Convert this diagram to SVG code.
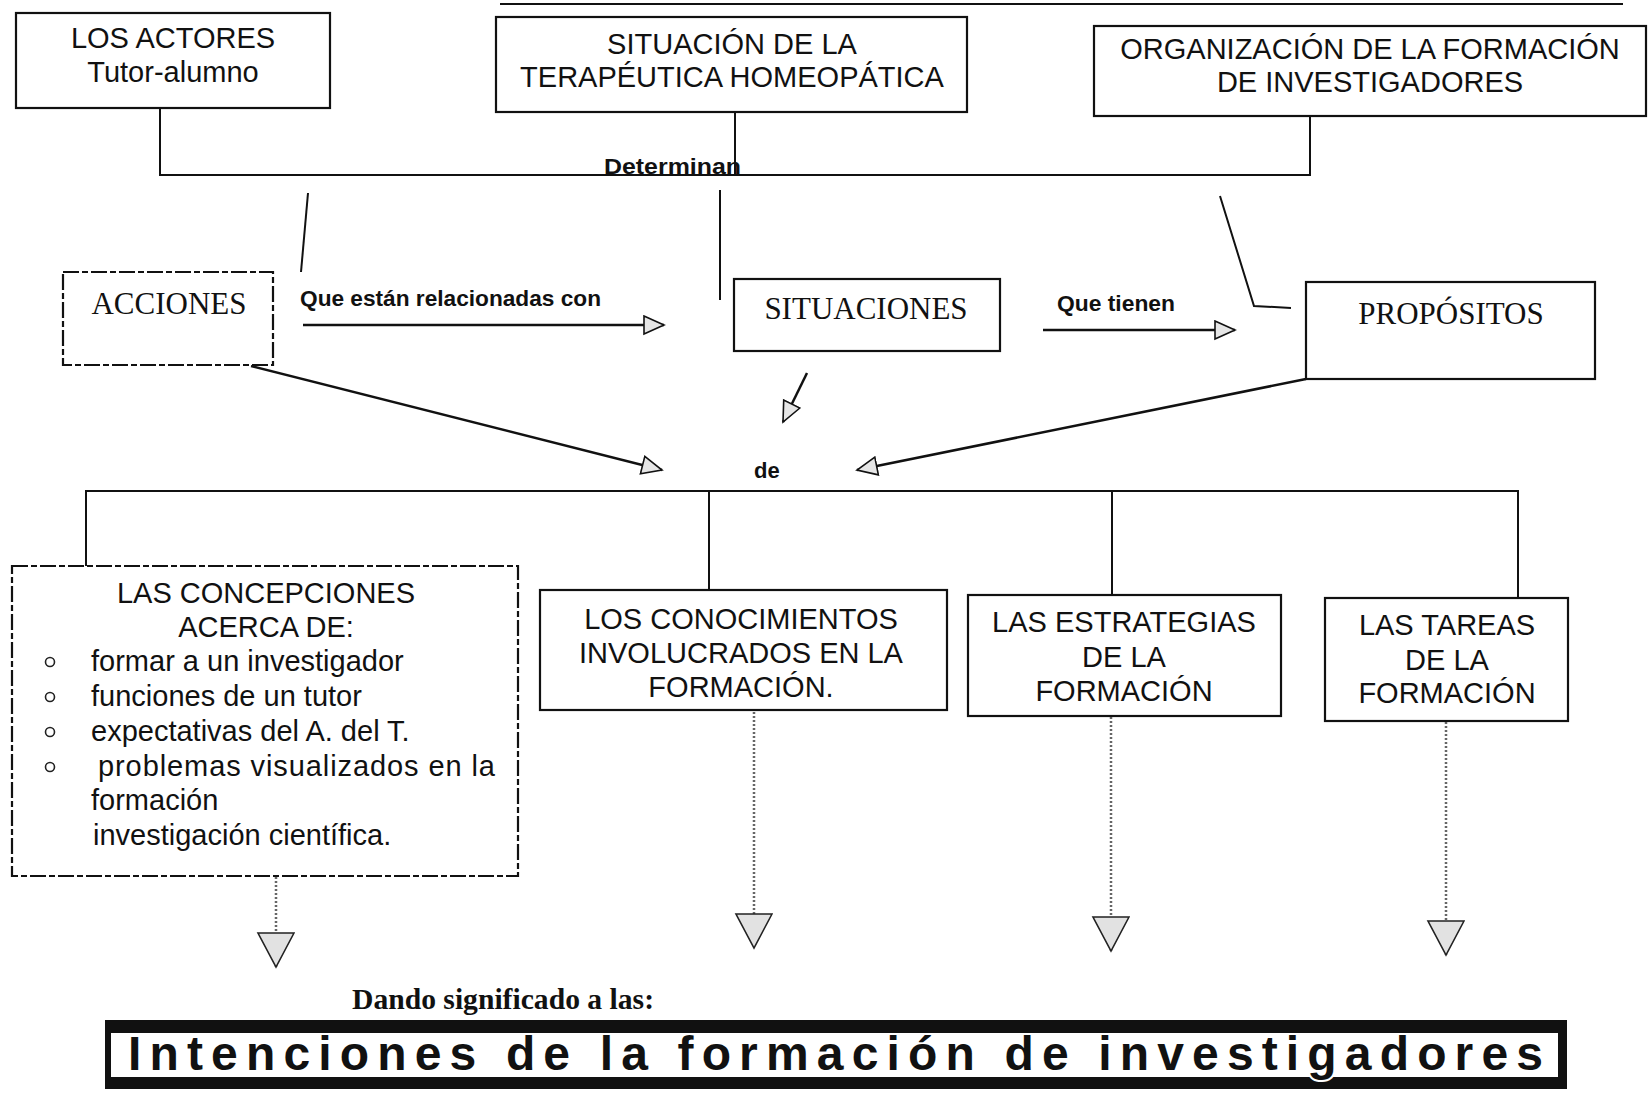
<svg xmlns="http://www.w3.org/2000/svg" width="1652" height="1099" viewBox="0 0 1652 1099">
<style>
.box{fill:#fff;stroke:#111;stroke-width:2.2}
.dbox{fill:#fff;stroke:#111;stroke-width:2.2;stroke-dasharray:16 3 6 3}
.sans{font-family:"Liberation Sans",Arial,sans-serif;font-size:29px;fill:#111}
.serif{font-family:"Liberation Serif","Times New Roman",serif;font-size:31px;fill:#111}
.lbl{font-family:"Liberation Sans",Arial,sans-serif;font-size:22px;font-weight:bold;fill:#111}
.ln{fill:none;stroke:#111;stroke-width:2}
.arr{fill:none;stroke:#111;stroke-width:2.5}
.dot{fill:none;stroke:#666;stroke-width:2.5;stroke-dasharray:2 2}
.c{text-anchor:middle}
</style>
<defs>
<marker id="head" markerUnits="userSpaceOnUse" markerWidth="24" markerHeight="22" refX="21" refY="10" orient="auto" viewBox="0 0 24 22">
<path d="M1,1 L21,10 L1,19 Z" fill="#e6e6e6" stroke="#111" stroke-width="1.6"/>
</marker>
<marker id="bighead" markerUnits="userSpaceOnUse" markerWidth="38" markerHeight="40" refX="35" refY="19" orient="auto" viewBox="0 0 38 40">
<path d="M1,1 L35,19 L1,37 Z" fill="#e2e2e2" stroke="#222" stroke-width="1.6"/>
</marker>
</defs>
<rect width="1652" height="1099" fill="#fff"/>

<g id="connectors">
<line class="ln" x1="500" y1="4" x2="1623" y2="4"/>
<polyline class="ln" points="160,108 160,175 1310,175 1310,116"/>
<line class="ln" x1="735" y1="112" x2="735" y2="175"/>
<line class="ln" x1="308" y1="193" x2="301" y2="272"/>
<line class="ln" x1="720" y1="190" x2="720" y2="300"/>
<polyline class="ln" points="1220,196 1254,306 1291,308"/>
<line class="arr" x1="303" y1="325" x2="664" y2="325" marker-end="url(#head)"/>
<line class="arr" x1="1043" y1="330" x2="1235" y2="330" marker-end="url(#head)"/>
<line class="arr" x1="251" y1="366" x2="662" y2="470" marker-end="url(#head)"/>
<line class="arr" x1="807" y1="373" x2="783" y2="422" marker-end="url(#head)"/>
<line class="arr" x1="1306" y1="379" x2="857" y2="470" marker-end="url(#head)"/>
<polyline class="ln" points="86,566 86,491 1518,491 1518,598"/>
<line class="ln" x1="709" y1="491" x2="709" y2="590"/>
<line class="ln" x1="1112" y1="491" x2="1112" y2="595"/>
<line class="dot" x1="276" y1="877" x2="276" y2="967" marker-end="url(#bighead)"/>
<line class="dot" x1="754" y1="712" x2="754" y2="948" marker-end="url(#bighead)"/>
<line class="dot" x1="1111" y1="717" x2="1111" y2="951" marker-end="url(#bighead)"/>
<line class="dot" x1="1446" y1="722" x2="1446" y2="955" marker-end="url(#bighead)"/>
<text class="lbl" x="604" y="174" textLength="137" lengthAdjust="spacingAndGlyphs">Determinan</text>
<text class="lbl" x="300" y="306" textLength="301" lengthAdjust="spacingAndGlyphs">Que están relacionadas con</text>
<text class="lbl" x="1057" y="311" textLength="118" lengthAdjust="spacingAndGlyphs">Que tienen</text>
<text class="lbl" x="754" y="478">de</text>
</g>

<g id="n-actores">
<rect class="box" x="16" y="13" width="314" height="95"/>
<text class="sans c" x="173" y="48">LOS ACTORES</text>
<text class="sans c" x="173" y="82">Tutor-alumno</text>
</g>
<g id="n-situacion">
<rect class="box" x="496" y="17" width="471" height="95"/>
<text class="sans c" x="732" y="54">SITUACIÓN DE LA</text>
<text class="sans c" x="732" y="87">TERAPÉUTICA HOMEOPÁTICA</text>
</g>
<g id="n-organizacion">
<rect class="box" x="1094" y="26" width="552" height="90"/>
<text class="sans c" x="1370" y="59">ORGANIZACIÓN DE LA FORMACIÓN</text>
<text class="sans c" x="1370" y="92">DE INVESTIGADORES</text>
</g>

<g id="n-acciones">
<rect class="dbox" x="63" y="272" width="210" height="93"/>
<text class="serif c" x="169" y="314">ACCIONES</text>
</g>
<g id="n-situaciones">
<rect class="box" x="734" y="279" width="266" height="72"/>
<text class="serif c" x="866" y="319">SITUACIONES</text>
</g>
<g id="n-propositos">
<rect class="box" x="1306" y="282" width="289" height="97"/>
<text class="serif c" x="1451" y="324">PROPÓSITOS</text>
</g>

<g id="n-concepciones">
<rect class="dbox" x="12" y="566" width="506" height="310"/>
<text class="sans c" x="266" y="603">LAS CONCEPCIONES</text>
<text class="sans c" x="266" y="637">ACERCA DE:</text>
<circle cx="50" cy="662" r="4.5" fill="none" stroke="#222" stroke-width="1.6"/>
<circle cx="50" cy="697" r="4.5" fill="none" stroke="#222" stroke-width="1.6"/>
<circle cx="50" cy="732" r="4.5" fill="none" stroke="#222" stroke-width="1.6"/>
<circle cx="50" cy="767" r="4.5" fill="none" stroke="#222" stroke-width="1.6"/>
<text class="sans" x="91" y="671">formar a un investigador</text>
<text class="sans" x="91" y="706">funciones de un tutor</text>
<text class="sans" x="91" y="741">expectativas del A. del T.</text>
<text class="sans" x="98" y="776" textLength="397" lengthAdjust="spacing">problemas visualizados en la</text>
<text class="sans" x="91" y="810">formación</text>
<text class="sans" x="93" y="845">investigación científica.</text>
</g>
<g id="n-conocimientos">
<rect class="box" x="540" y="590" width="407" height="120"/>
<text class="sans c" x="741" y="629">LOS CONOCIMIENTOS</text>
<text class="sans c" x="741" y="663">INVOLUCRADOS EN LA</text>
<text class="sans c" x="741" y="697">FORMACIÓN.</text>
</g>
<g id="n-estrategias">
<rect class="box" x="968" y="595" width="313" height="121"/>
<text class="sans c" x="1124" y="632">LAS ESTRATEGIAS</text>
<text class="sans c" x="1124" y="667">DE LA</text>
<text class="sans c" x="1124" y="701">FORMACIÓN</text>
</g>
<g id="n-tareas">
<rect class="box" x="1325" y="598" width="243" height="123"/>
<text class="sans c" x="1447" y="635">LAS TAREAS</text>
<text class="sans c" x="1447" y="670">DE LA</text>
<text class="sans c" x="1447" y="703">FORMACIÓN</text>
</g>

<g id="n-intenciones">
<text x="352" y="1009" textLength="302" lengthAdjust="spacingAndGlyphs" style="font-family:'Liberation Serif','Times New Roman',serif;font-size:29px;font-weight:bold;fill:#111">Dando significado a las:</text>
<rect x="105" y="1020" width="1462" height="69" fill="#111"/>
<rect x="111" y="1033" width="1447" height="44" fill="#fff"/>
<text x="128" y="1070" textLength="1415" lengthAdjust="spacing" style="font-family:'Liberation Sans',Arial,sans-serif;font-size:48px;font-weight:bold;fill:#111;stroke:#fff;stroke-width:4;paint-order:stroke">Intenciones de la formación de investigadores</text>
</g>
</svg>
